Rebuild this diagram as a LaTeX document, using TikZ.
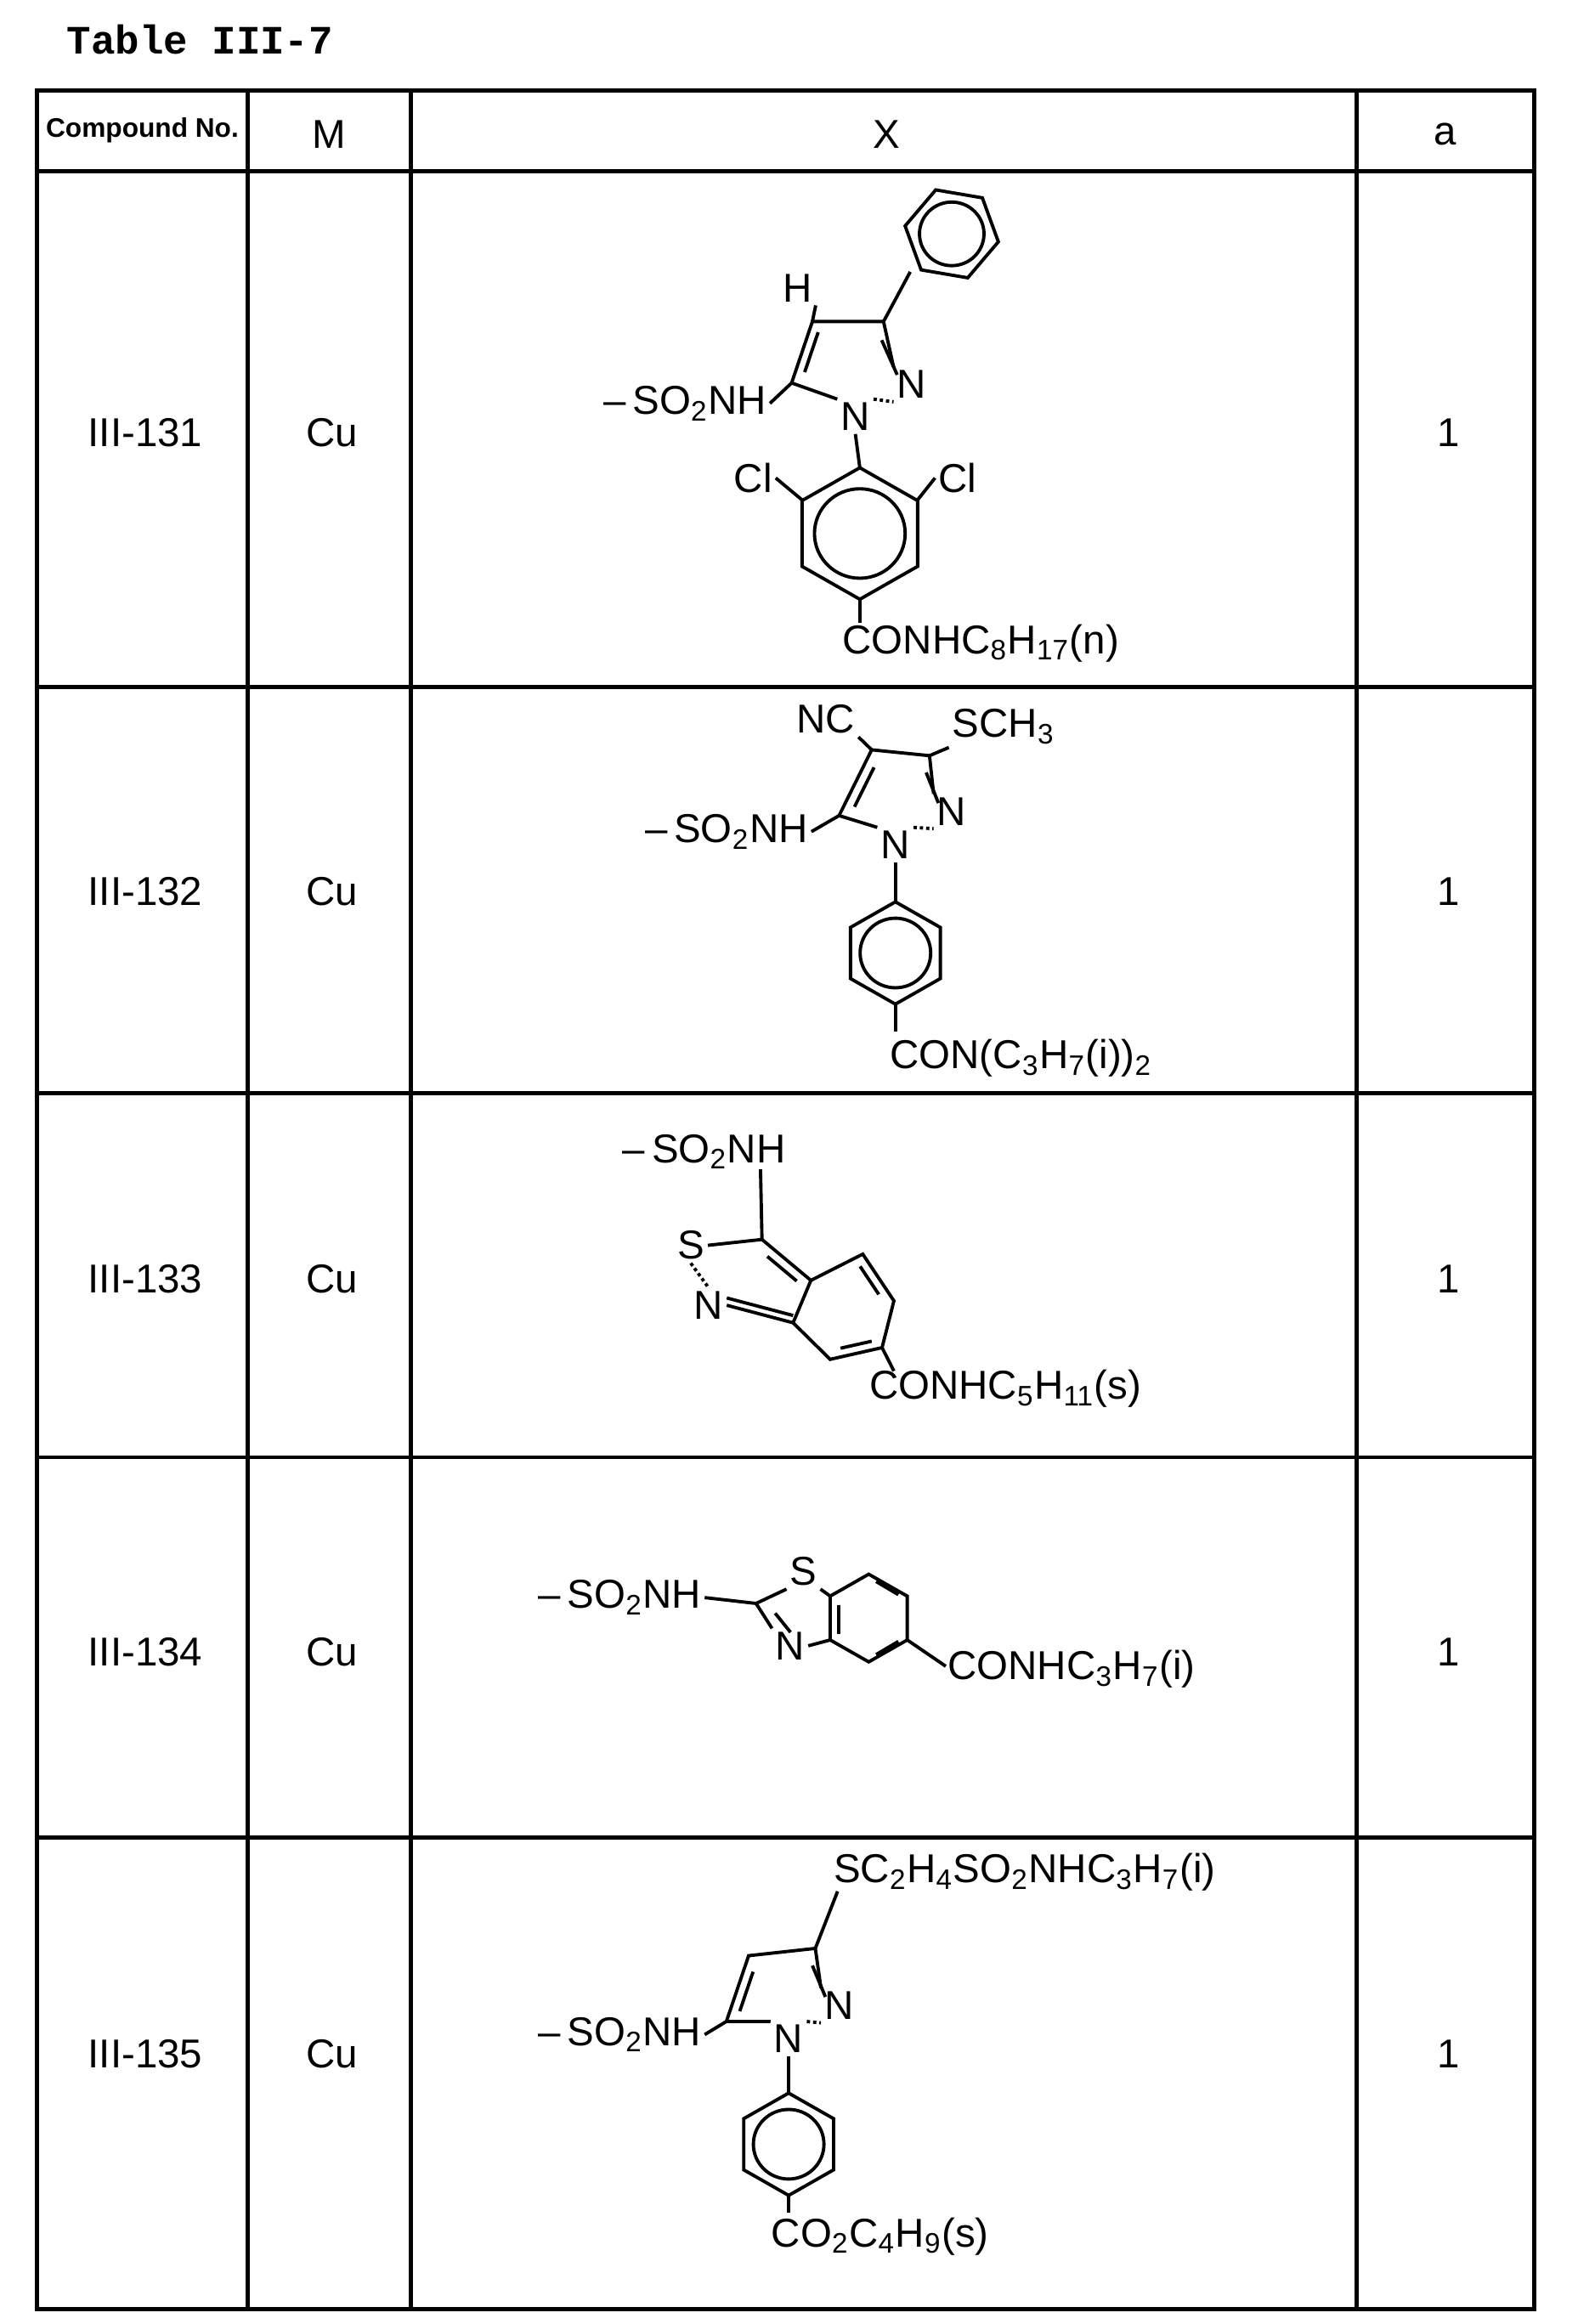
\documentclass[tikz,border=0pt]{standalone}
\usepackage{fontspec}
\setmainfont{Liberation Sans}
\newfontfamily\titlefont{Liberation Mono}
\usetikzlibrary{calc}
\tikzset{
  grid/.style={line width=1.4pt},
  bond/.style={line width=1.1pt},
  chem/.style={font=\fontsize{13.5}{15}\selectfont, inner sep=1pt},
  lbl/.style={font=\fontsize{13.5}{15}\selectfont},
}
\newcommand{\sub}[1]{\textsubscript{#1}}
% hexagon: centre, radius, rotation, inner circle?
\newcommand{\hexa}[4]{%
  \draw[bond, shift={#1}, rotate=#3] (90:#2)--(30:#2)--(-30:#2)--(-90:#2)--(-150:#2)--(150:#2)--cycle;
  \ifx#4y\draw[bond, shift={#1}] (0,0) circle (0.68*#2);\fi}
\begin{document}
\begin{tikzpicture}[x=0.01744cm,y=-0.0172cm]
  \useasboundingbox (0,0) rectangle (1064.2,1590);

  % Title
  \node[anchor=west, font=\titlefont\bfseries\fontsize{13.5}{15}\selectfont] (title) at (38,27) {Table III-7};

  % Table grid
  \draw[grid] (25,62) rectangle (1035,1580);
  \foreach \x in {167,277,915} \draw[grid] (\x,62) -- (\x,1580);
  \foreach \y in {117,470,748,997,1257} \draw[grid] (25,\y) -- (1035,\y);

  % Header
  \node[font=\fontsize{9}{10}\selectfont\bfseries] (hcomp) at (96,89) {Compound No.};
  \node[lbl] (hm) at (222,92) {M};
  \node[lbl] (hx) at (598,92) {X};
  \node[lbl] (ha) at (975,92) {a};

  % Rows: number, metal, a
  \foreach \n/\y in {131/296,132/610,133/875,134/1130,135/1405} {
    \node[lbl] (no\n) at (98,\y) {III-\n};
    \node[lbl] (m\n) at (224,\y) {Cu};
    \node[lbl] (a\n) at (977,\y) {1};
  }

  % ---- III-131 ----
  \node[chem] (s131) at (462,276) {--\,SO\sub{2}NH};
  \coordinate (p5) at (534,262); \coordinate (p4) at (548,220); \coordinate (p3) at (596,220);
  \node[chem] (h131) at (538,197) {H};
  \node[chem] (n2a) at (615,263) {N};
  \node[chem] (n1a) at (577,285) {N};
  \draw[bond] (s131.east) -- (p5) -- (n1a.north west);
  \draw[bond] (p5) -- (p4) -- (p3) -- (n2a.north west);
  \draw[bond] ($(p5)!0.2!(p4)+(6,1)$) -- ($(p5)!0.85!(p4)+(6,1)$);
  \draw[bond] ($(p3)!0.25!(n2a)+(-6,2)$) -- ($(p3)!0.8!(n2a)+(-6,2)$);
  \draw[bond, densely dotted] (n1a.north east) -- (n2a.south west);
  \draw[bond] (p4) -- (h131.south east);
  \draw[bond] (p3) -- (614,186);
  \hexa{(642,160)}{32}{20}{y}
  \draw[bond] (n1a.south) -- (580,320);
  \hexa{(580,365)}{45}{0}{y}
  \node[chem] (cl1) at (508,327) {Cl};
  \node[chem] (cl2) at (646,327) {Cl};
  \draw[bond] (541,342) -- (cl1.east);
  \draw[bond] (619,342) -- (cl2.west);
  \node[chem, anchor=west] (r131) at (566,440) {CONHC\sub{8}H\sub{17}(n)};
  \draw[bond] (580,410) -- (580,426);

  % ---- III-132 ----
  \node[chem] (s132) at (490,569) {--\,SO\sub{2}NH};
  \coordinate (q5) at (566,558); \coordinate (q4) at (588,513); \coordinate (q3) at (627,517);
  \node[chem] (n2b) at (642,555) {N};
  \node[chem] (n1b) at (604,578) {N};
  \node[chem] (nc) at (557,492) {NC};
  \node[chem] (sch) at (677,497) {SCH\sub{3}};
  \draw[bond] (s132.east) -- (q5) -- (n1b.north west);
  \draw[bond] (q5) -- (q4) -- (q3) -- (n2b.north west);
  \draw[bond] ($(q5)!0.2!(q4)+(6,3)$) -- ($(q5)!0.8!(q4)+(6,3)$);
  \draw[bond] ($(q3)!0.25!(n2b)+(-6,2)$) -- ($(q3)!0.8!(n2b)+(-6,2)$);
  \draw[bond, densely dotted] (n1b.north east) -- (n2b.south west);
  \draw[bond] (q4) -- (nc.south east);
  \draw[bond] (q3) -- (sch.south west);
  \draw[bond] (n1b.south) -- (604,617);
  \hexa{(604,652)}{35}{0}{y}
  \draw[bond] (604,687) -- (604,706);
  \node[chem, anchor=west] (r132) at (598,724) {CON(C\sub{3}H\sub{7}(i))\sub{2}};

  % ---- III-133 ----
  \node[chem] (s133) at (475,788) {--\,SO\sub{2}NH};
  \coordinate (c3) at (514,848);
  \node[chem] (s1c) at (466,852) {S};
  \node[chem] (n2c) at (478,893) {N};
  \coordinate (c3a) at (547,876); \coordinate (c4) at (582,858);
  \coordinate (c5) at (603,890); \coordinate (c6) at (595,922);
  \coordinate (c7) at (560,930); \coordinate (c7a) at (535,905);
  \draw[bond] (513,800) -- (c3) -- (c3a) -- (c4) -- (c5) -- (c6) -- (c7) -- (c7a) -- (c3a);
  \draw[bond] ($(c3)!0.2!(c3a)+(-3,6)$) -- ($(c3)!0.8!(c3a)+(-3,6)$);
  \draw[bond] ($(c4)!0.2!(c5)+(-6,2)$) -- ($(c4)!0.8!(c5)+(-6,2)$);
  \draw[bond] ($(c6)!0.2!(c7)+(0,-6)$) -- ($(c6)!0.8!(c7)+(0,-6)$);
  \draw[bond] (c3) -- (s1c.east);
  \draw[bond, densely dotted] (s1c.south) -- (n2c.north);
  \draw[bond] (n2c.east) -- (c7a);
  \draw[bond] ($(n2c.east)+(0,-5)$) -- ($(c7a)+(0,-5)$);
  \draw[bond] (c6) -- (603,938);
  \node[chem, anchor=west] (r133) at (584,950) {CONHC\sub{5}H\sub{11}(s)};

  % ---- III-134 ----
  \node[chem] (s134) at (418,1093) {--\,SO\sub{2}NH};
  \coordinate (d2) at (510,1097);
  \node[chem] (s1d) at (542,1075) {S};
  \node[chem] (n3d) at (533,1126) {N};
  \coordinate (d7a) at (560,1092); \coordinate (d3a) at (560,1122);
  \hexa{(586,1107)}{30}{0}{n}
  \draw[bond] (s134.east) -- (d2) -- (s1d.south west);
  \draw[bond] (s1d.south east) -- (d7a);
  \draw[bond] (d2) -- (n3d.north west);
  \draw[bond] ($(d2)!0.3!(n3d)+(6,-2)$) -- ($(d2)!0.75!(n3d)+(6,-2)$);
  \draw[bond] (n3d.east) -- (d3a);
  \draw[bond] (566,1098) -- (566,1118);
  \draw[bond] (591,1132) -- (606,1123);
  \draw[bond] (591,1082) -- (606,1091);
  \draw[bond] (612,1122) -- (638,1140);
  \node[chem, anchor=west] (r134) at (637,1142) {CONHC\sub{3}H\sub{7}(i)};

  % ---- III-135 ----
  \node[chem] (s135) at (418,1392) {--\,SO\sub{2}NH};
  \coordinate (e5) at (490,1383); \coordinate (e4) at (505,1338); \coordinate (e3) at (550,1333);
  \node[chem] (n2e) at (566,1372) {N};
  \node[chem] (n1e) at (532,1395) {N};
  \draw[bond] (s135.east) -- (e5) -- (n1e.north west);
  \draw[bond] (e5) -- (e4) -- (e3) -- (n2e.north west);
  \draw[bond] ($(e5)!0.2!(e4)+(6,2)$) -- ($(e5)!0.8!(e4)+(6,2)$);
  \draw[bond] ($(e3)!0.25!(n2e)+(-6,2)$) -- ($(e3)!0.8!(n2e)+(-6,2)$);
  \draw[bond, densely dotted] (n1e.north east) -- (n2e.south west);
  \draw[bond] (e3) -- (565,1294);
  \node[chem, anchor=west] (r135a) at (560,1281) {SC\sub{2}H\sub{4}SO\sub{2}NHC\sub{3}H\sub{7}(i)};
  \draw[bond] (n1e.south) -- (532,1432);
  \hexa{(532,1467)}{35}{0}{y}
  \draw[bond] (532,1502) -- (532,1514);
  \node[chem, anchor=west] (r135b) at (518,1530) {CO\sub{2}C\sub{4}H\sub{9}(s)};
\end{tikzpicture}
\end{document}
